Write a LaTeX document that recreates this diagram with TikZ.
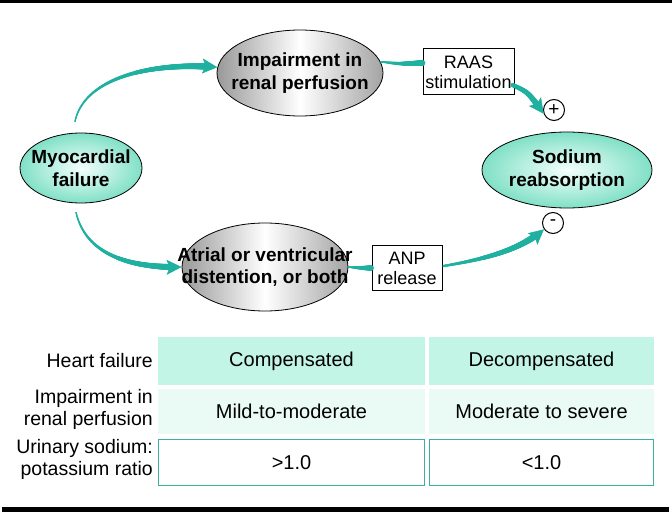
\documentclass[tikz,border=0pt]{standalone}
\usepackage{fontspec}
\setmainfont{Liberation Sans}
\usetikzlibrary{arrows.meta,shapes.geometric,decorations.markings,calc}
\definecolor{arr}{RGB}{31,176,160}
\definecolor{mint}{RGB}{128,224,198}
\definecolor{mintlight}{RGB}{244,255,252}
\definecolor{hdr}{RGB}{194,245,229}
\definecolor{rowtwo}{RGB}{234,251,245}
\definecolor{cellline}{RGB}{60,175,160}
\tikzset{
  taper/.style n args={3}{postaction={decorate,decoration={markings,
    mark=between positions 0 and #3 step 0.4pt with {%
      \pgfmathsetmacro\tr{#1+(#2-#1)*\pgfkeysvalueof{/pgf/decoration/mark info/distance from start}/\pgfdecoratedpathlength}%
      \fill[arr] (0,0) circle[radius=\tr pt];}}}},
  conn/.style={draw=arr, line width=0.6pt},
  head/.style={-{Stealth[length=15pt,width=15pt,inset=3pt]}, arr},
  bell/.style={ellipse, draw, line width=0.8pt, inner sep=0pt},
  btext/.style={align=center, inner sep=0pt, font=\fontsize{19}{22.5}\selectfont\bfseries},
  tealfill/.style={inner color=mintlight, outer color=mint},
  greyfill/.style={left color=black!40, right color=black!36, middle color=white},
  tbox/.style={draw, line width=1pt, fill=white, align=center, inner sep=0pt,
    font=\fontsize{18}{20}\selectfont},
  sign/.style={circle, draw, line width=1pt, minimum size=21pt, inner sep=0pt,
    font=\fontsize{19}{19}\selectfont},
  lab/.style={anchor=east, align=right, inner sep=0pt, font=\fontsize{19.5}{22}\selectfont},
  cell/.style={minimum height=#1, inner sep=0pt, font=\fontsize{20}{22}\selectfont},
}
\begin{document}
\begin{tikzpicture}[x=1pt,y=-1pt]
\useasboundingbox (0,0) rectangle (672,513);
% rules
\draw[line width=3pt] (0,1.5) -- (672,1.5);
\draw[line width=4.5pt] (2,509.5) -- (669,509.5);

% nodes
\node[bell, tealfill, minimum width=122pt, minimum height=70pt] (myo) at (81,168) {};
\node[btext] (myot) at (myo) {Myocardial\\failure};
\node[bell, greyfill, minimum width=166pt, minimum height=86pt] (imp) at (300,73) {};
\node[btext] (impt) at (imp) {Impairment in\\renal perfusion};
\node[bell, greyfill, minimum width=166pt, minimum height=88pt] (atr) at (265,267) {};
\node[btext] (atrt) at (atr) {Atrial or ventricular\\distention, or both};
\node[bell, tealfill, minimum width=170pt, minimum height=76pt] (sod) at (567,170) {};
\node[btext] (sodt) at (sod) {Sodium\\reabsorption};
\node[tbox, minimum width=91pt, minimum height=46pt] (raas) at (468.5,72) {RAAS\\stimulation};
\node[tbox, minimum width=70pt, minimum height=44pt] (anp) at (407,268) {ANP\\release};
\node[sign] (plus) at (554,110) {+};
\node[sign] (minus) at (553,223) {-};

% connectors
\coordinate (s1) at ($(myo.north)+(-6,-11)$);
\coordinate (s2) at ($(myo.south)+(-5,9)$);
\path[conn, taper={0.7}{3.3}{-9pt}, head] (s1) .. controls (84,78) and (150,62) .. (imp.176);
\path[conn, taper={0.7}{3.3}{-9pt}, head] (s2) .. controls (86,255) and (130,268) .. (atr.west);
\path[conn, taper={0.8}{3.0}{1}] (imp.8) .. controls (400,64) .. ($(raas.west)+(0,-9)$);
\path[conn, taper={2.0}{3.2}{-9pt}, head] ($(raas.east)+(-2,13)$) .. controls (528,92) .. (plus.200);
\path[conn, taper={0.8}{2.8}{1}] (atr.east) .. controls (360,268) .. (anp.west);
\path[conn, taper={1.2}{3.4}{-9pt}, head] ($(anp.east)+(1,-2)$) .. controls (492,258) and (522,248) .. (minus.215);

% table
\node[cell=48pt, minimum width=267pt, fill=hdr] (h1) at (291.5,361) {Compensated};
\node[cell=48pt, minimum width=225pt, fill=hdr] (h2) at (541.5,361) {Decompensated};
\node[cell=45pt, minimum width=267pt, fill=rowtwo] (m1) at (291.5,411.5) {Mild-to-moderate};
\node[cell=45pt, minimum width=225pt, fill=rowtwo] (m2) at (541.5,411.5) {Moderate to severe};
\node[cell=46pt, minimum width=266pt, draw=cellline, line width=1pt] (u1) at (291.5,462.5) {>1.0};
\node[cell=46pt, minimum width=224pt, draw=cellline, line width=1pt] (u2) at (541.5,462.5) {<1.0};

\node[lab] (l1) at (153,361) {Heart failure};
\node[lab] (l2) at (153,409) {Impairment in\\renal perfusion};
\node[lab] (l3) at (153,459) {Urinary sodium:\\potassium ratio};
\end{tikzpicture}
\end{document}
